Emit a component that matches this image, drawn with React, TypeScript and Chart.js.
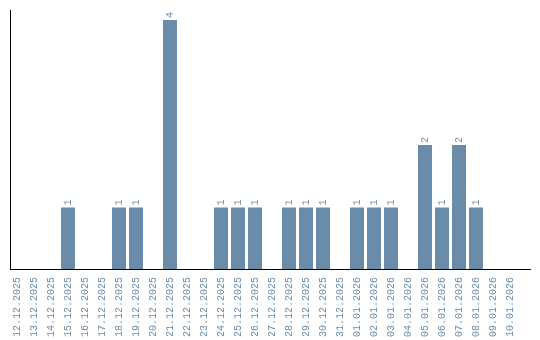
import React, { useEffect, useRef } from "react";
import { Chart, registerables } from "chart.js";

Chart.register(...registerables);

const categories = [
  "12.12.2025", "13.12.2025", "14.12.2025", "15.12.2025", "16.12.2025", "17.12.2025",
  "18.12.2025", "19.12.2025", "20.12.2025", "21.12.2025", "22.12.2025", "23.12.2025",
  "24.12.2025", "25.12.2025", "26.12.2025", "27.12.2025", "28.12.2025", "29.12.2025",
  "30.12.2025", "31.12.2025", "01.01.2026", "02.01.2026", "03.01.2026", "04.01.2026",
  "05.01.2026", "06.01.2026", "07.01.2026", "08.01.2026", "09.01.2026", "10.01.2026",
];

const counts = [
  0, 0, 0, 1, 0, 0,
  1, 1, 0, 4, 0, 0,
  1, 1, 1, 0, 1, 1,
  1, 0, 1, 1, 1, 0,
  2, 1, 2, 1, 0, 0,
];

const BAR_COLOR = "#6a8cab";
const TEXT_COLOR = "#6a8cab";
const FONT_FAMILY = "'Liberation Mono', monospace";

const overlayPlugin = {
  id: "overlay",
  afterDatasetsDraw(chart: any) {
    const ctx = chart.ctx;
    const area = chart.chartArea;
    const meta = chart.getDatasetMeta(0);
    ctx.save();
    ctx.font = "10px " + FONT_FAMILY;
    ctx.fillStyle = TEXT_COLOR;
    ctx.textAlign = "left";
    ctx.textBaseline = "middle";
    meta.data.forEach((bar: any, i: number) => {
      const v = counts[i];
      if (!v) return;
      ctx.save();
      ctx.translate(bar.x, bar.y - 2);
      ctx.rotate(-Math.PI / 2);
      ctx.fillText(String(v), 0, 0);
      ctx.restore();
    });
    ctx.strokeStyle = "#000";
    ctx.lineWidth = 1;
    ctx.beginPath();
    ctx.moveTo(10.5, area.top);
    ctx.lineTo(10.5, area.bottom);
    ctx.moveTo(10, area.bottom - 0.5);
    ctx.lineTo(531, area.bottom - 0.5);
    ctx.stroke();
    ctx.restore();
  },
};

export default function App() {
  const ref = useRef<HTMLCanvasElement | null>(null);
  useEffect(() => {
    if (!ref.current) return;
    const chart = new Chart(ref.current, {
      type: "bar",
      data: {
        labels: categories,
        datasets: [
          {
            data: counts,
            backgroundColor: BAR_COLOR,
            borderWidth: 0,
            categoryPercentage: 1,
            barPercentage: 14 / 17,
          },
        ],
      },
      options: {
        animation: false,
        responsive: false,
        maintainAspectRatio: false,
        layout: { padding: { left: 8.5, right: 21.5, top: 10, bottom: 0 } },
        plugins: { legend: { display: false }, tooltip: { enabled: false } },
        scales: {
          x: {
            grid: { display: false, drawTicks: false },
            border: { display: false },
            ticks: {
              autoSkip: false,
              minRotation: 90,
              maxRotation: 90,
              padding: 7,
              color: TEXT_COLOR,
              font: { family: FONT_FAMILY, size: 10 },
            },
            afterFit: (scale: any) => {
              scale.height = 70;
            },
          },
          y: {
            display: false,
            min: 0,
            max: 4.16,
          },
        },
      },
      plugins: [overlayPlugin],
    });
    return () => chart.destroy();
  }, []);
  return (
    <div style={{ position: "fixed", left: 0, top: 0, width: 540, height: 340, background: "#fff" }}>
      <canvas ref={ref} width={540} height={340} style={{ display: "block", width: 540, height: 340 }} />
    </div>
  );
}
